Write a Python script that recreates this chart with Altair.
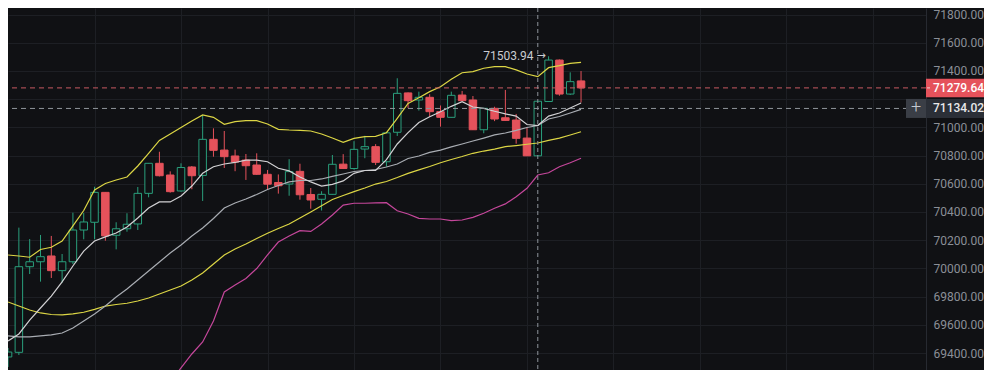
import altair as alt
import pandas as pd

# ---------------- data ----------------
opens = [69372, 69405, 70012, 70047, 70088, 69984, 70047, 70272, 70327, 70539,
         70235, 70281, 70315, 70532, 70745, 70662, 70549, 70719, 70659, 70915,
         70839, 70797, 70768, 70733, 70667, 70609, 70598, 70688, 70524, 70490,
         70525, 70739, 70708, 70846, 70863, 70756, 70965, 71244, 71194, 71213,
         71111, 71071, 71229, 71194, 70983, 71135, 71068, 71052, 70924, 70798,
         71183, 71477, 71236, 71329]
highs = [69436, 70289, 70208, 70237, 70230, 70102, 70395, 70393, 70579, 70541,
         70327, 70391, 70577, 70747, 70827, 70688, 70745, 70726, 71088, 70993,
         70974, 70842, 70811, 70816, 70698, 70666, 70774, 70742, 70570, 70547,
         70804, 70810, 70902, 70940, 70881, 70963, 71348, 71247, 71253, 71235,
         71155, 71253, 71258, 71222, 71137, 71146, 71265, 71095, 71002, 71187,
         71503.94, 71481, 71390, 71399]
lows = [69301, 69386, 69960, 69906, 69932, 69899, 70031, 70206, 70206, 70196,
        70135, 70260, 70272, 70504, 70652, 70537, 70544, 70561, 70478, 70792,
        70712, 70689, 70627, 70664, 70556, 70530, 70515, 70487, 70423, 70410,
        70524, 70705, 70700, 70781, 70733, 70721, 70939, 71137, 71119, 71073,
        71005, 71070, 71187, 70981, 70958, 71044, 71047, 70884, 70797, 70797,
        71182, 71224, 71229, 71176]
closes = [69407, 70012, 70047, 70083, 69984, 70047, 70272, 70329, 70539, 70230,
          70281, 70313, 70532, 70745, 70657, 70544, 70715, 70657, 70915, 70837,
          70792, 70754, 70728, 70667, 70597, 70586, 70686, 70522, 70485, 70525,
          70738, 70708, 70844, 70863, 70752, 70961, 71241, 71189, 71213, 71111,
          71071, 71227, 71189, 70983, 71135, 71059, 71049, 70922, 70798, 71185,
          71477, 71236, 71324, 71279.64]

boll_upper = [70095, 70088, 70079, 70134, 70150, 70194, 70301, 70410, 70556, 70602,
              70627, 70648, 70726, 70816, 70907, 70953, 70999, 71045, 71088, 71071,
              71022, 71041, 71047, 71047, 71024, 70986, 70981, 70979, 70974, 70953,
              70924, 70894, 70922, 70934, 70936, 70962, 71064, 71170, 71210, 71253,
              71288, 71341, 71387, 71395, 71419, 71430, 71430, 71407, 71378, 71359,
              71423, 71437, 71454, 71461]
ma7 = [69485, 69535, 69634, 69719, 69804, 69904, 70017, 70123, 70194, 70223,
       70251, 70293, 70357, 70428, 70471, 70471, 70513, 70584, 70674, 70721,
       70740, 70751, 70768, 70768, 70756, 70710, 70691, 70648, 70613, 70584,
       70596, 70620, 70674, 70694, 70695, 70771, 70882, 70963, 71034, 71075,
       71111, 71149, 71182, 71144, 71135, 71114, 71095, 71080, 71020, 71013,
       71080, 71102, 71137, 71173]
boll_mid = [69521, 69514, 69514, 69521, 69528, 69542, 69577, 69627, 69677, 69733,
            69797, 69854, 69918, 69982, 70045, 70109, 70166, 70230, 70286, 70354,
            70428, 70464, 70492, 70524, 70559, 70588, 70613, 70623, 70623, 70634,
            70652, 70669, 70687, 70694, 70701, 70719, 70740, 70779, 70797, 70822,
            70839, 70861, 70882, 70903, 70924, 70946, 70960, 70978, 70999, 71013,
            71059, 71077, 71102, 71127]
ma_slow = [69762, 69733, 69705, 69684, 69673, 69670, 69677, 69689, 69709, 69733,
           69744, 69753, 69769, 69790, 69818, 69847, 69875, 69918, 69967, 70031,
           70095, 70138, 70173, 70212, 70249, 70283, 70315, 70357, 70400, 70444,
           70488, 70517, 70544, 70570, 70598, 70616, 70644, 70674, 70698, 70722,
           70749, 70772, 70793, 70816, 70832, 70846, 70863, 70871, 70880, 70889,
           70907, 70924, 70946, 70969]
# lower band: visible from candle 15 onwards
boll_lower = [69195, 69294, 69393, 69478, 69627, 69833, 69882, 69928, 69999, 70095,
              70187, 70230, 70267, 70262, 70315, 70379, 70449, 70462, 70462, 70464,
              70466, 70409, 70386, 70355, 70350, 70350, 70338, 70343, 70362, 70391,
              70426, 70457, 70508, 70568, 70662, 70678, 70721, 70749, 70781]

CURRENT_PRICE = 71279.64
CROSS_PRICE = 71134.02
CROSS_INDEX = 49
PEAK_PRICE = 71503.94
PEAK_INDEX = 50

y_ticks = [69400, 69600, 69800, 70000, 70200, 70400, 70600, 70800,
           71000, 71200, 71400, 71600, 71800]
x_grid = [8, 16, 24, 32, 40, 48, 56, 64, 72, 80]

# ---------------- styling ----------------
BG = "#101114"
GRID = "#1d1f24"
GREEN = "#2a9f7c"
RED = "#e5525b"
YELLOW = "#dcd645"
WHITE_LINE = "#d2d2d4"
GRAY_LINE = "#a9adb3"
MAGENTA = "#c5479b"
FONT = "Roboto"

W, H = 918, 362
RIGHT = 58

n = len(opens)
candles = pd.DataFrame({"i": list(range(n)), "open": opens, "high": highs,
                        "low": lows, "close": closes})
candles["dir"] = ["up" if c >= o else "down" for o, c in zip(opens, closes)]

X_SCALE = alt.Scale(domain=[0.4575, 84.446], nice=False, zero=False)
Y_SCALE = alt.Scale(domain=[69279.6, 71846.1], nice=False, zero=False)
X_AXIS = alt.Axis(values=x_grid, labels=False, ticks=False, domain=False,
                  grid=True, gridColor=GRID, gridWidth=1, title=None)
Y_AXIS = alt.Axis(orient="right", values=y_ticks, grid=True, gridColor=GRID,
                  gridWidth=1, ticks=False, tickSize=0, domain=True,
                  domainColor="#272a31", labelColor="#8b8f97", labelFont=FONT,
                  labelFontSize=12, labelPadding=7,
                  labelExpr="datum.value == 71200 ? '' : format(datum.value, '.2f')",
                  title=None)


def X(f):
    return alt.X(f, type="quantitative", scale=X_SCALE, axis=X_AXIS)


def Y(f):
    return alt.Y(f, type="quantitative", scale=Y_SCALE, axis=Y_AXIS)


base = alt.Chart(candles)

wicks_up = base.transform_filter(alt.datum.dir == "up").mark_rule(
    color=GREEN, strokeWidth=1, clip=True).encode(x=X("i"), y=Y("low"), y2="high")
wicks_dn = base.transform_filter(alt.datum.dir == "down").mark_rule(
    color=RED, strokeWidth=1, clip=True).encode(x=X("i"), y=Y("low"), y2="high")
body_up = base.transform_filter(alt.datum.dir == "up").mark_bar(
    size=7.5, fill=BG, stroke=GREEN, strokeWidth=1, clip=True).encode(
    x=X("i"), y=Y("open"), y2="close")
body_dn = base.transform_filter(alt.datum.dir == "down").mark_bar(
    size=7.5, fill=RED, stroke=RED, strokeWidth=1, clip=True).encode(
    x=X("i"), y=Y("open"), y2="close")


def line_layer(vals, color, width=1.2):
    off = n - len(vals)
    df = pd.DataFrame({"i": list(range(off, n)), "value": vals})
    return alt.Chart(df).mark_line(color=color, strokeWidth=width, clip=True).encode(
        x=X("i"), y=Y("value"))


lines = [
    line_layer(ma_slow, YELLOW, 1.2),
    line_layer(boll_mid, GRAY_LINE, 1.2),
    line_layer(ma7, WHITE_LINE, 1.2),
    line_layer(boll_upper, YELLOW, 1.2),
    line_layer(boll_lower, MAGENTA, 1.2),
]

cur_df = pd.DataFrame({"p": [CURRENT_PRICE], "label": [f"{CURRENT_PRICE:.2f}"]})
cross_df = pd.DataFrame({"p": [CROSS_PRICE], "label": [f"{CROSS_PRICE:.2f}"],
                         "i": [CROSS_INDEX]})
peak_df = pd.DataFrame({"p": [PEAK_PRICE], "i": [PEAK_INDEX],
                        "label": [f"{PEAK_PRICE:.2f}"], "arrow": ["→"]})

cur_line = alt.Chart(cur_df).mark_rule(color="#c85a62", strokeDash=[5, 4],
                                       strokeWidth=1).encode(y=Y("p"))
cross_h = alt.Chart(cross_df).mark_rule(color="#8f949b", strokeDash=[5, 4],
                                        strokeWidth=1).encode(y=Y("p"))
cross_v = alt.Chart(cross_df).mark_rule(color="#8f949b", strokeDash=[4, 3],
                                        strokeWidth=1).encode(x=X("i"))

peak_text = alt.Chart(peak_df).mark_text(
    align="right", baseline="middle", dx=-15, font=FONT, fontSize=12,
    color="#c9ccd1").encode(x=X("i"), y=Y("p"), text="label:N")
peak_arrow = alt.Chart(peak_df).mark_text(
    align="right", baseline="middle", dx=-3, font="DejaVu Sans", fontSize=11,
    color="#c9ccd1").encode(x=X("i"), y=Y("p"), text="arrow:N")

cur_tag = alt.Chart(cur_df).mark_rule(color=RED, strokeWidth=18.5).encode(
    y=Y("p"), x=alt.value(W), x2=alt.value(W + RIGHT))
cur_tick = alt.Chart(cur_df).mark_rule(color="#f0d0d2", strokeWidth=1).encode(
    y=Y("p"), x=alt.value(W + 1), x2=alt.value(W + 4))
cur_txt = alt.Chart(cur_df).mark_text(
    align="left", baseline="middle", font=FONT, fontSize=12, fontWeight=500,
    color="#ffffff").encode(y=Y("p"), x=alt.value(W + 7), text="label:N")

cross_plus_box = alt.Chart(cross_df).mark_rule(color="#3a3e46", strokeWidth=19).encode(
    y=Y("p"), x=alt.value(W - 20), x2=alt.value(W))
cross_tag = alt.Chart(cross_df).mark_rule(color="#2b2f37", strokeWidth=19).encode(
    y=Y("p"), x=alt.value(W), x2=alt.value(W + RIGHT))
cross_plus = alt.Chart(cross_df).mark_text(
    align="center", baseline="middle", font=FONT, fontSize=18, fontWeight=300,
    color="#c5c9d0", text="+").encode(y=Y("p"), x=alt.value(W - 10))
cross_txt = alt.Chart(cross_df).mark_text(
    align="left", baseline="middle", font=FONT, fontSize=12, fontWeight=500,
    color="#e8e9eb").encode(y=Y("p"), x=alt.value(W + 7), text="label:N")

chart = alt.layer(
    wicks_up, wicks_dn, body_up, body_dn, *lines,
    cur_line, cross_h, cross_v, peak_text, peak_arrow,
    cur_tag, cur_tick, cur_txt, cross_plus_box, cross_tag, cross_plus, cross_txt,
).properties(
    width=W, height=H, background=BG,
    autosize=alt.AutoSizeParams(type="none"),
    padding={"left": 0, "top": 0, "right": RIGHT, "bottom": 0},
).configure_view(stroke=None)

chart.save("out.html", embed_options={"renderer": "svg", "actions": False})
